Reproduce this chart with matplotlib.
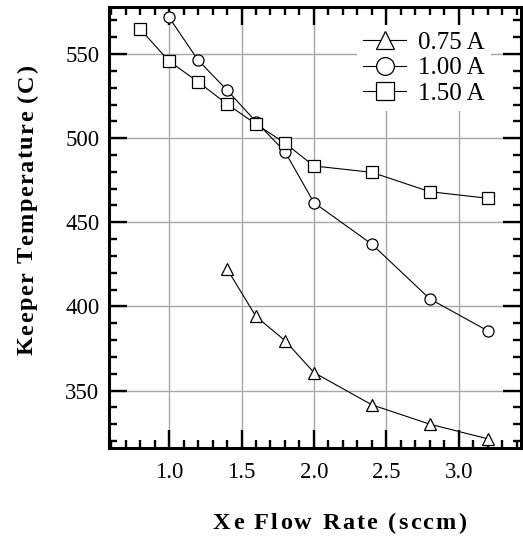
import matplotlib

matplotlib.use("Agg")

import matplotlib.pyplot as plt
from matplotlib.font_manager import FontProperties, findfont, get_font
from matplotlib.ticker import MultipleLocator, FormatStrFormatter

plt.rcParams["font.family"] = "Liberation Serif"

# keeper temperature vs. xenon flow, one series per discharge current
flow_075 = [1.4, 1.6, 1.8, 2.0, 2.4, 2.8, 3.2]
temp_075 = [422.3, 394.0, 379.7, 360.7, 341.5, 330.0, 321.3]

flow_100 = [1.0, 1.2, 1.4, 1.6, 1.8, 2.0, 2.4, 2.8, 3.2]
temp_100 = [571.8, 546.4, 528.6, 509.8, 492.0, 461.7, 437.0, 404.5, 385.5]

flow_150 = [0.8, 1.0, 1.2, 1.4, 1.6, 1.8, 2.0, 2.4, 2.8, 3.2]
temp_150 = [564.9, 545.8, 533.5, 520.3, 508.4, 497.1, 483.5, 479.7, 468.2, 464.3]

series = [
    ("0.75 A", flow_075, temp_075, "^"),
    ("1.00 A", flow_100, temp_100, "o"),
    ("1.50 A", flow_150, temp_150, "s"),
]

W, H, DPI = 523, 536, 100


def spaced_text(fig, x0, y0, s, size, tracking, rotation=0):
    """Draw bold text letter by letter with extra tracking (pixels).

    x0, y0 are the baseline start in pixels from the top-left corner.
    """
    prop = FontProperties(family="Liberation Serif", weight="bold", size=size)
    font = get_font(findfont(prop))
    font.set_size(size, DPI)
    pos = 0.0
    for ch in s:
        if rotation == 0:
            px, py = x0 + pos, y0
        else:
            px, py = x0, y0 - pos
        fig.text(px / W, 1 - py / H, ch, fontproperties=prop,
                 ha="left", va="baseline", rotation=rotation,
                 rotation_mode="anchor")
        pos += font.load_char(ord(ch)).linearHoriAdvance / 65536 + tracking


fig = plt.figure(figsize=(W / DPI, H / DPI), dpi=DPI)
ax = fig.add_axes([109 / W, 1 - 447.7 / H, 412 / W, 440.7 / H])

for label, x, y, marker in series:
    ax.plot(x, y, color="black", lw=0.8, marker=marker, ms=8,
            mfc="white", mec="black", mew=0.9, label=label, zorder=3)

ax.set_xlim(0.585, 3.43)
ax.set_ylim(316, 578)
ax.xaxis.set_major_locator(MultipleLocator(0.5))
ax.xaxis.set_minor_locator(MultipleLocator(0.1))
ax.yaxis.set_major_locator(MultipleLocator(50))
ax.yaxis.set_minor_locator(MultipleLocator(10))
ax.xaxis.set_major_formatter(FormatStrFormatter("%.1f"))

ax.grid(True, which="major", color="#a8a8a8", lw=1.0, zorder=0)
ax.tick_params(which="both", direction="in", top=True, right=True,
               labelsize=16.5, width=1.7)
ax.tick_params(which="major", length=13)
ax.tick_params(which="minor", length=6)
ax.tick_params(axis="x", pad=10)
ax.tick_params(axis="y", pad=7)
for spine in ax.spines.values():
    spine.set_linewidth(2.2)

leg = ax.legend(loc="upper left", bbox_to_anchor=(357 / W, 1 - 25 / H),
                bbox_transform=fig.transFigure, borderaxespad=0,
                fontsize=18, markerscale=1.6, handlelength=1.72,
                handletextpad=0.48, labelspacing=0.12, borderpad=0.25,
                fancybox=False, framealpha=1)
leg.get_frame().set_edgecolor("none")
leg.get_frame().set_linewidth(0)

spaced_text(fig, 213, 529, "Xe Flow Rate (sccm)", 17.5, 2.2)
spaced_text(fig, 33, 355, "Keeper Temperature (C)", 17.5, 1.5, rotation=90)

fig.savefig("out.png", dpi=DPI)
